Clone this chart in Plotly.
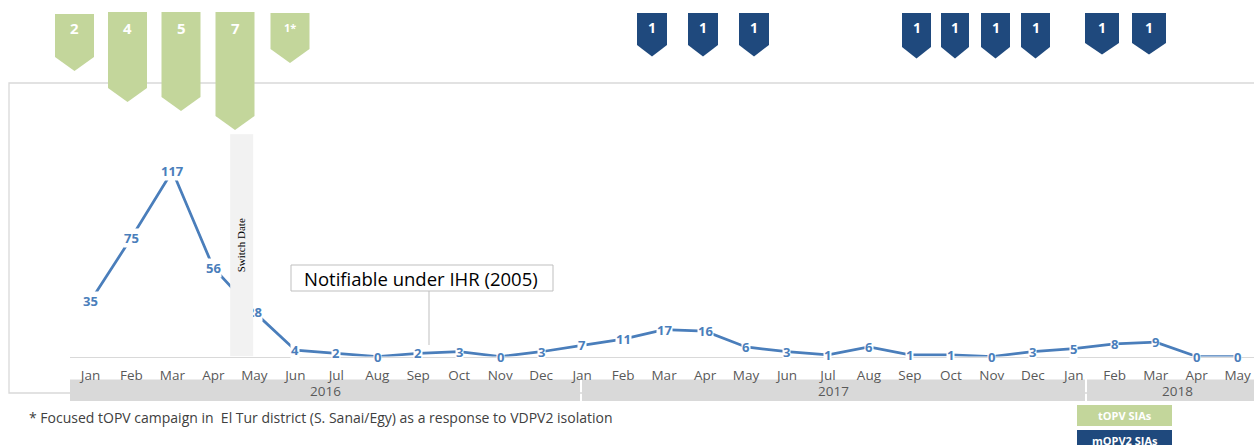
import plotly.graph_objects as go

# ---------------- data ----------------
months = ["Jan", "Feb", "Mar", "Apr", "May", "Jun", "Jul", "Aug", "Sep", "Oct", "Nov", "Dec",
          "Jan", "Feb", "Mar", "Apr", "May", "Jun", "Jul", "Aug", "Sep", "Oct", "Nov", "Dec",
          "Jan", "Feb", "Mar", "Apr", "May"]
cases = [35, 75, 117, 56, 28, 4, 2, 0, 2, 3, 0, 3,
         7, 11, 17, 16, 6, 3, 1, 6, 1, 1, 0, 3,
         5, 8, 9, 0, 0]
years = ["2016", "2017", "2018"]
topv_rounds = ["2", "4", "5", "7", "1*"]
mopv2_rounds = ["1", "1", "1", "1", "1", "1", "1", "1", "1"]
switch_label = "Switch Date"
notifiable_text = "Notifiable under IHR (2005)"
legend_labels = ["tOPV SIAs", "mOPV2 SIAs"]
footnote = "* Focused tOPV campaign in\u00a0 El Tur district (S. Sanai/Egy) as a response to VDPV2 isolation"

# ---------------- layout constants ----------------
W, H = 1254, 445
X0_PX = 70.0
PX_PER_CAT = 40.97
BASE_PX = 356.5
PX_PER_CASE = 1.585
Y_MAX = 130
X_RANGE = [-0.5, -0.5 + (W - X0_PX) / PX_PER_CAT]

LINE_BLUE = "#4A7EBB"
GREEN = "#C3D69B"
NAVY = "#1F497D"
GREY_TXT = "#595959"
FONT = "Open Sans"


def dx(px):
    return (px - X0_PX) / PX_PER_CAT - 0.5


def dy(py):
    return (BASE_PX - py) / PX_PER_CASE


def fx(px):
    return px / W


def fy(py):
    return 1 - py / H


def ann(**kw):
    d = dict(showarrow=False, xanchor="center", yanchor="middle")
    d.update(kw)
    return d


fig = go.Figure()
fig.add_trace(go.Scatter(
    x=list(range(len(cases))), y=cases, mode="lines",
    line=dict(color=LINE_BLUE, width=2.75), hoverinfo="skip"))

shapes = []
annotations = []

# outer frame
shapes.append(dict(type="rect", xref="paper", yref="paper", x0=fx(9), x1=fx(1262),
                   y0=fy(393), y1=fy(83), line=dict(color="#D9D9D9", width=1.3),
                   fillcolor="rgba(0,0,0,0)", layer="below"))

# year bands
year_spans = [(70, 580), (582, 1085), (1087, 1300)]
year_label_px = [325, 833.5, 1177]
for (a, b), yr, lx in zip(year_spans, years, year_label_px):
    shapes.append(dict(type="rect", xref="x", yref="paper", x0=dx(a), x1=dx(b),
                       y0=fy(401), y1=fy(379.5), fillcolor="#D9D9D9", line=dict(width=0),
                       layer="below"))
    annotations.append(ann(x=dx(lx), y=fy(390.5), xref="x", yref="paper", text=yr,
                           font=dict(family=FONT, size=13.5, color=GREY_TXT)))

# data labels (white background breaks the line)
for i, v in enumerate(cases):
    annotations.append(ann(x=i, y=v, xref="x", yref="y", text=str(v),
                           bgcolor="white", borderpad=0,
                           font=dict(family=FONT, size=13, color=LINE_BLUE, weight="bold")))

# switch date bar (drawn after labels so it covers them)
annotations.append(ann(x=dx(241.2), y=dy(245), xref="x", yref="y", text=switch_label,
                       textangle=-90, width=222, height=22.5,
                       bgcolor="#F2F2F2", borderpad=0, borderwidth=0,
                       font=dict(family="Liberation Serif", size=11, color="black")))

# notifiable box
shapes.append(dict(type="line", xref="paper", yref="paper", x0=fx(429), x1=fx(429),
                   y0=fy(291), y1=fy(345), line=dict(color="#BFBFBF", width=1)))
shapes.append(dict(type="rect", xref="paper", yref="paper", x0=fx(291), x1=fx(553),
                   y0=fy(291), y1=fy(265), line=dict(color="#BFBFBF", width=1),
                   fillcolor="white"))
annotations.append(ann(x=fx(421), y=fy(278.5), xref="paper", yref="paper",
                       text=notifiable_text,
                       font=dict(family=FONT, size=18.5, color="black")))


def banner(cx, hw, top, bot, tip, color):
    return dict(type="path", xref="paper", yref="paper",
                path=(f"M {fx(cx - hw)},{fy(top)} L {fx(cx + hw)},{fy(top)} "
                      f"L {fx(cx + hw)},{fy(bot)} L {fx(cx)},{fy(tip)} "
                      f"L {fx(cx - hw)},{fy(bot)} Z"),
                fillcolor=color, line=dict(width=0), layer="above")


# tOPV banners
g_cx = [74.5, 127.5, 181, 235, 290]
g_top = [14, 12, 12, 12, 13]
g_bot = [57, 88, 97, 116, 49]
for lab, cx, t, b in zip(topv_rounds, g_cx, g_top, g_bot):
    shapes.append(banner(cx, 19.5, t, b, b + 14, GREEN))
    small = "*" in lab
    annotations.append(ann(x=fx(cx), y=fy(27.5), xref="paper", yref="paper", text=lab,
                           font=dict(family=FONT, size=11 if small else 15, color="white",
                                     weight="bold")))

# mOPV2 banners
b_cx = [652, 703, 754, 916.5, 955, 995.5, 1035.5, 1102, 1149]
b_hw = [15, 15, 15, 14.5, 14, 14.5, 14.5, 17, 17]
b_bot = [45, 45, 45, 47, 47, 47, 47, 43, 43]
for lab, cx, hw, b in zip(mopv2_rounds, b_cx, b_hw, b_bot):
    shapes.append(banner(cx, hw, 13, b, b + 11.5, NAVY))
    annotations.append(ann(x=fx(cx), y=fy(28), xref="paper", yref="paper", text=lab,
                           font=dict(family=FONT, size=14, color="white", weight="bold")))

# legend boxes
leg_boxes = [(405, 426, GREEN, 415.5), (430, 452, NAVY, 440.5)]
for lab, (t, b, col, ty) in zip(legend_labels, leg_boxes):
    shapes.append(dict(type="rect", xref="paper", yref="paper", x0=fx(1077), x1=fx(1172),
                       y0=fy(b), y1=fy(t), fillcolor=col, line=dict(width=0)))
    annotations.append(ann(x=fx(1124.5), y=fy(ty), xref="paper", yref="paper", text=lab,
                           font=dict(family=FONT, size=11, color="white", weight="bold")))

# footnote
annotations.append(ann(x=fx(27), y=fy(417), xref="paper", yref="paper", text=footnote,
                       xanchor="left",
                       font=dict(family=FONT, size=14, color="#404040")))

fig.update_layout(
    width=W, height=H,
    margin=dict(l=0, r=0, t=0, b=0, pad=0),
    paper_bgcolor="white", plot_bgcolor="white",
    showlegend=False,
    xaxis=dict(domain=[X0_PX / W, 1], range=X_RANGE,
               tickvals=list(range(len(months))), ticktext=months,
               tickfont=dict(family=FONT, size=13.5, color=GREY_TXT),
               showgrid=False, zeroline=False, showline=True, linecolor="#D9D9D9",
               linewidth=1, ticks="", ticklabelstandoff=6, fixedrange=True,
               automargin=False),
    yaxis=dict(domain=[(H - BASE_PX) / H, (H - (BASE_PX - Y_MAX * PX_PER_CASE)) / H],
               range=[0, Y_MAX], visible=False, fixedrange=True, automargin=False),
    shapes=shapes, annotations=annotations,
)

fig.write_html("out.html", config={"displayModeBar": False},
               post_script="document.body.style.margin='0px';"
                           "document.body.style.overflow='hidden';")
